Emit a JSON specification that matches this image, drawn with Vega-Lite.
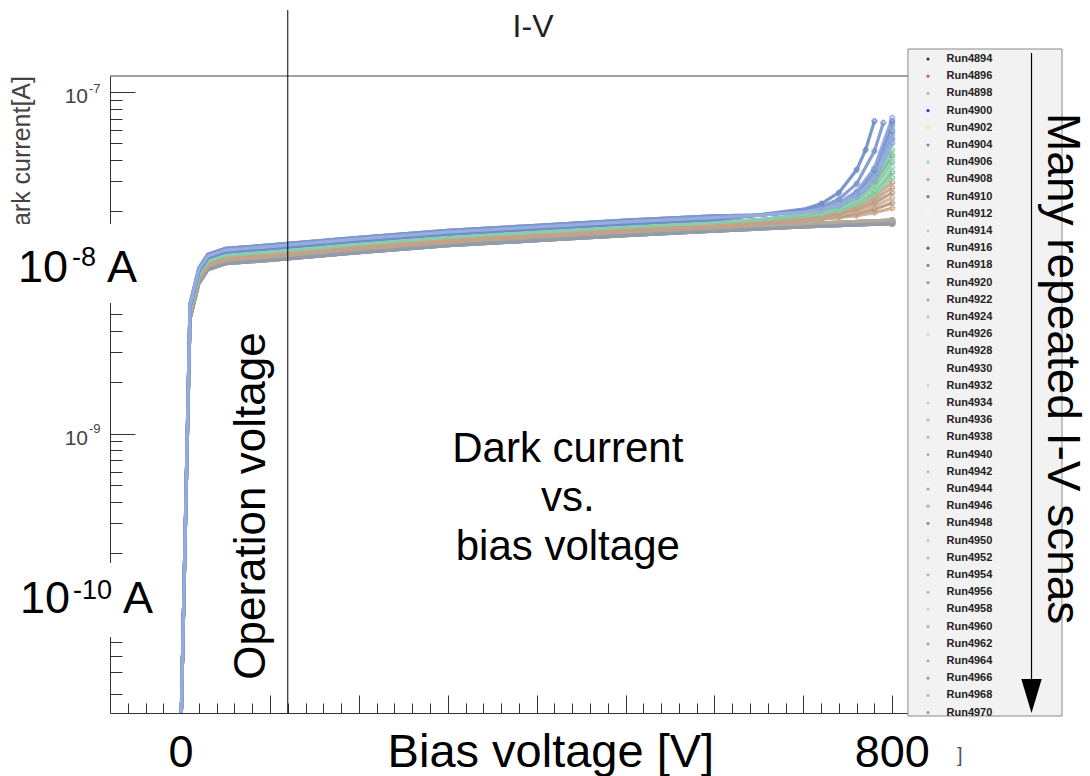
{
"$schema":"https://vega.github.io/schema/vega-lite/v6.json",
"width":800,"height":637,
"autosize":{"type":"none"},
"padding":{"left":110,"top":76,"right":180,"bottom":63},
"background":"white",
"config":{"view":{"stroke":null},"font":"Liberation Sans","axis":{"domainWidth":1,"tickWidth":1}},
"resolve":{"axis":{"x":"independent","y":"independent"}},
"datasets":{"iv":[
{"r":4894,"v":0,"i":2e-11},{"r":4894,"v":10,"i":4.79e-9},{"r":4894,"v":20,"i":7.76e-9},{"r":4894,"v":30,"i":9.33e-9},{"r":4894,"v":50,"i":1.011e-8},{"r":4894,"v":100,"i":1.059e-8},{"r":4894,"v":200,"i":1.175e-8},{"r":4894,"v":300,"i":1.289e-8},{"r":4894,"v":400,"i":1.381e-8},{"r":4894,"v":500,"i":1.479e-8},{"r":4894,"v":600,"i":1.567e-8},{"r":4894,"v":700,"i":1.66e-8},{"r":4894,"v":800,"i":1.737e-8},
{"r":4896,"v":0,"i":2e-11},{"r":4896,"v":10,"i":4.68e-9},{"r":4896,"v":20,"i":7.58e-9},{"r":4896,"v":30,"i":9.11e-9},{"r":4896,"v":50,"i":9.88e-9},{"r":4896,"v":100,"i":1.034e-8},{"r":4896,"v":200,"i":1.148e-8},{"r":4896,"v":300,"i":1.259e-8},{"r":4896,"v":400,"i":1.349e-8},{"r":4896,"v":500,"i":1.445e-8},{"r":4896,"v":600,"i":1.531e-8},{"r":4896,"v":700,"i":1.622e-8},{"r":4896,"v":800,"i":1.697e-8},
{"r":4898,"v":0,"i":2e-11},{"r":4898,"v":10,"i":4.9e-9},{"r":4898,"v":20,"i":7.94e-9},{"r":4898,"v":30,"i":9.54e-9},{"r":4898,"v":50,"i":1.035e-8},{"r":4898,"v":100,"i":1.083e-8},{"r":4898,"v":200,"i":1.202e-8},{"r":4898,"v":300,"i":1.318e-8},{"r":4898,"v":400,"i":1.413e-8},{"r":4898,"v":500,"i":1.513e-8},{"r":4898,"v":600,"i":1.603e-8},{"r":4898,"v":700,"i":1.698e-8},{"r":4898,"v":800,"i":1.777e-8},
{"r":4900,"v":0,"i":2e-11},{"r":4900,"v":10,"i":4.79e-9},{"r":4900,"v":20,"i":7.76e-9},{"r":4900,"v":30,"i":9.33e-9},{"r":4900,"v":50,"i":1.011e-8},{"r":4900,"v":100,"i":1.059e-8},{"r":4900,"v":200,"i":1.175e-8},{"r":4900,"v":300,"i":1.289e-8},{"r":4900,"v":400,"i":1.381e-8},{"r":4900,"v":500,"i":1.479e-8},{"r":4900,"v":600,"i":1.567e-8},{"r":4900,"v":700,"i":1.66e-8},{"r":4900,"v":800,"i":1.737e-8},
{"r":4902,"v":0,"i":2e-11},{"r":4902,"v":10,"i":4.68e-9},{"r":4902,"v":20,"i":7.58e-9},{"r":4902,"v":30,"i":9.11e-9},{"r":4902,"v":50,"i":9.88e-9},{"r":4902,"v":100,"i":1.034e-8},{"r":4902,"v":200,"i":1.148e-8},{"r":4902,"v":300,"i":1.259e-8},{"r":4902,"v":400,"i":1.349e-8},{"r":4902,"v":500,"i":1.445e-8},{"r":4902,"v":600,"i":1.531e-8},{"r":4902,"v":700,"i":1.622e-8},{"r":4902,"v":800,"i":1.697e-8},
{"r":4904,"v":0,"i":2e-11},{"r":4904,"v":10,"i":4.9e-9},{"r":4904,"v":20,"i":7.94e-9},{"r":4904,"v":30,"i":9.54e-9},{"r":4904,"v":50,"i":1.035e-8},{"r":4904,"v":100,"i":1.083e-8},{"r":4904,"v":200,"i":1.202e-8},{"r":4904,"v":300,"i":1.318e-8},{"r":4904,"v":400,"i":1.413e-8},{"r":4904,"v":500,"i":1.513e-8},{"r":4904,"v":600,"i":1.603e-8},{"r":4904,"v":700,"i":1.698e-8},{"r":4904,"v":800,"i":1.777e-8},
{"r":4906,"v":0,"i":2e-11},{"r":4906,"v":10,"i":4.79e-9},{"r":4906,"v":20,"i":7.76e-9},{"r":4906,"v":30,"i":9.33e-9},{"r":4906,"v":50,"i":1.011e-8},{"r":4906,"v":100,"i":1.059e-8},{"r":4906,"v":200,"i":1.175e-8},{"r":4906,"v":300,"i":1.289e-8},{"r":4906,"v":400,"i":1.381e-8},{"r":4906,"v":500,"i":1.479e-8},{"r":4906,"v":600,"i":1.567e-8},{"r":4906,"v":700,"i":1.66e-8},{"r":4906,"v":800,"i":1.737e-8},
{"r":4908,"v":0,"i":2e-11},{"r":4908,"v":10,"i":4.68e-9},{"r":4908,"v":20,"i":7.58e-9},{"r":4908,"v":30,"i":9.11e-9},{"r":4908,"v":50,"i":9.88e-9},{"r":4908,"v":100,"i":1.034e-8},{"r":4908,"v":200,"i":1.148e-8},{"r":4908,"v":300,"i":1.259e-8},{"r":4908,"v":400,"i":1.349e-8},{"r":4908,"v":500,"i":1.445e-8},{"r":4908,"v":600,"i":1.531e-8},{"r":4908,"v":700,"i":1.622e-8},{"r":4908,"v":800,"i":1.697e-8},
{"r":4910,"v":0,"i":2e-11},{"r":4910,"v":10,"i":4.9e-9},{"r":4910,"v":20,"i":7.94e-9},{"r":4910,"v":30,"i":9.54e-9},{"r":4910,"v":50,"i":1.035e-8},{"r":4910,"v":100,"i":1.083e-8},{"r":4910,"v":200,"i":1.202e-8},{"r":4910,"v":300,"i":1.318e-8},{"r":4910,"v":400,"i":1.413e-8},{"r":4910,"v":500,"i":1.513e-8},{"r":4910,"v":600,"i":1.603e-8},{"r":4910,"v":700,"i":1.698e-8},{"r":4910,"v":800,"i":1.777e-8},
{"r":4912,"v":0,"i":2e-11},{"r":4912,"v":10,"i":4.79e-9},{"r":4912,"v":20,"i":7.76e-9},{"r":4912,"v":30,"i":9.33e-9},{"r":4912,"v":50,"i":1.011e-8},{"r":4912,"v":100,"i":1.059e-8},{"r":4912,"v":200,"i":1.175e-8},{"r":4912,"v":300,"i":1.289e-8},{"r":4912,"v":400,"i":1.381e-8},{"r":4912,"v":500,"i":1.479e-8},{"r":4912,"v":600,"i":1.567e-8},{"r":4912,"v":700,"i":1.66e-8},{"r":4912,"v":800,"i":1.737e-8},
{"r":4914,"v":0,"i":2e-11},{"r":4914,"v":10,"i":4.68e-9},{"r":4914,"v":20,"i":7.58e-9},{"r":4914,"v":30,"i":9.11e-9},{"r":4914,"v":50,"i":9.88e-9},{"r":4914,"v":100,"i":1.034e-8},{"r":4914,"v":200,"i":1.148e-8},{"r":4914,"v":300,"i":1.259e-8},{"r":4914,"v":400,"i":1.349e-8},{"r":4914,"v":500,"i":1.445e-8},{"r":4914,"v":600,"i":1.531e-8},{"r":4914,"v":700,"i":1.622e-8},{"r":4914,"v":800,"i":1.697e-8},
{"r":4916,"v":0,"i":2e-11},{"r":4916,"v":10,"i":4.9e-9},{"r":4916,"v":20,"i":7.94e-9},{"r":4916,"v":30,"i":9.54e-9},{"r":4916,"v":50,"i":1.035e-8},{"r":4916,"v":100,"i":1.083e-8},{"r":4916,"v":200,"i":1.202e-8},{"r":4916,"v":300,"i":1.318e-8},{"r":4916,"v":400,"i":1.413e-8},{"r":4916,"v":500,"i":1.513e-8},{"r":4916,"v":600,"i":1.603e-8},{"r":4916,"v":700,"i":1.698e-8},{"r":4916,"v":800,"i":1.777e-8},
{"r":4918,"v":0,"i":2e-11},{"r":4918,"v":10,"i":4.79e-9},{"r":4918,"v":20,"i":7.76e-9},{"r":4918,"v":30,"i":9.33e-9},{"r":4918,"v":50,"i":1.011e-8},{"r":4918,"v":100,"i":1.059e-8},{"r":4918,"v":200,"i":1.175e-8},{"r":4918,"v":300,"i":1.289e-8},{"r":4918,"v":400,"i":1.381e-8},{"r":4918,"v":500,"i":1.479e-8},{"r":4918,"v":600,"i":1.567e-8},{"r":4918,"v":700,"i":1.66e-8},{"r":4918,"v":800,"i":1.737e-8},
{"r":4920,"v":0,"i":2e-11},{"r":4920,"v":10,"i":4.68e-9},{"r":4920,"v":20,"i":7.58e-9},{"r":4920,"v":30,"i":9.11e-9},{"r":4920,"v":50,"i":9.88e-9},{"r":4920,"v":100,"i":1.034e-8},{"r":4920,"v":200,"i":1.148e-8},{"r":4920,"v":300,"i":1.259e-8},{"r":4920,"v":400,"i":1.349e-8},{"r":4920,"v":500,"i":1.445e-8},{"r":4920,"v":600,"i":1.531e-8},{"r":4920,"v":700,"i":1.622e-8},{"r":4920,"v":800,"i":1.697e-8},
{"r":4922,"v":0,"i":2e-11},{"r":4922,"v":10,"i":4.9e-9},{"r":4922,"v":20,"i":7.94e-9},{"r":4922,"v":30,"i":9.54e-9},{"r":4922,"v":50,"i":1.035e-8},{"r":4922,"v":100,"i":1.083e-8},{"r":4922,"v":200,"i":1.202e-8},{"r":4922,"v":300,"i":1.318e-8},{"r":4922,"v":400,"i":1.413e-8},{"r":4922,"v":500,"i":1.513e-8},{"r":4922,"v":600,"i":1.603e-8},{"r":4922,"v":700,"i":1.698e-8},{"r":4922,"v":800,"i":1.777e-8},
{"r":4924,"v":0,"i":2e-11},{"r":4924,"v":10,"i":5.01e-9},{"r":4924,"v":20,"i":8.13e-9},{"r":4924,"v":30,"i":9.77e-9},{"r":4924,"v":50,"i":1.059e-8},{"r":4924,"v":100,"i":1.109e-8},{"r":4924,"v":200,"i":1.23e-8},{"r":4924,"v":300,"i":1.349e-8},{"r":4924,"v":400,"i":1.446e-8},{"r":4924,"v":500,"i":1.549e-8},{"r":4924,"v":600,"i":1.641e-8},{"r":4924,"v":650,"i":1.698e-8},{"r":4924,"v":700,"i":1.764e-8},{"r":4924,"v":720,"i":1.795e-8},{"r":4924,"v":740,"i":1.837e-8},{"r":4924,"v":760,"i":1.892e-8},{"r":4924,"v":780,"i":1.968e-8},{"r":4924,"v":800,"i":2.089e-8},
{"r":4926,"v":0,"i":2e-11},{"r":4926,"v":10,"i":5.01e-9},{"r":4926,"v":20,"i":8.13e-9},{"r":4926,"v":30,"i":9.77e-9},{"r":4926,"v":50,"i":1.059e-8},{"r":4926,"v":100,"i":1.109e-8},{"r":4926,"v":200,"i":1.23e-8},{"r":4926,"v":300,"i":1.349e-8},{"r":4926,"v":400,"i":1.446e-8},{"r":4926,"v":500,"i":1.549e-8},{"r":4926,"v":600,"i":1.641e-8},{"r":4926,"v":650,"i":1.702e-8},{"r":4926,"v":700,"i":1.778e-8},{"r":4926,"v":720,"i":1.816e-8},{"r":4926,"v":740,"i":1.871e-8},{"r":4926,"v":760,"i":1.945e-8},{"r":4926,"v":780,"i":2.061e-8},{"r":4926,"v":800,"i":2.239e-8},
{"r":4928,"v":0,"i":2e-11},{"r":4928,"v":10,"i":5.01e-9},{"r":4928,"v":20,"i":8.13e-9},{"r":4928,"v":30,"i":9.77e-9},{"r":4928,"v":50,"i":1.059e-8},{"r":4928,"v":100,"i":1.109e-8},{"r":4928,"v":200,"i":1.23e-8},{"r":4928,"v":300,"i":1.349e-8},{"r":4928,"v":400,"i":1.446e-8},{"r":4928,"v":500,"i":1.549e-8},{"r":4928,"v":600,"i":1.641e-8},{"r":4928,"v":650,"i":1.706e-8},{"r":4928,"v":700,"i":1.791e-8},{"r":4928,"v":720,"i":1.837e-8},{"r":4928,"v":740,"i":1.905e-8},{"r":4928,"v":760,"i":2e-8},{"r":4928,"v":780,"i":2.153e-8},{"r":4928,"v":800,"i":2.399e-8},
{"r":4930,"v":0,"i":2e-11},{"r":4930,"v":10,"i":5.01e-9},{"r":4930,"v":20,"i":8.13e-9},{"r":4930,"v":30,"i":9.77e-9},{"r":4930,"v":50,"i":1.059e-8},{"r":4930,"v":100,"i":1.109e-8},{"r":4930,"v":200,"i":1.23e-8},{"r":4930,"v":300,"i":1.349e-8},{"r":4930,"v":400,"i":1.446e-8},{"r":4930,"v":500,"i":1.549e-8},{"r":4930,"v":600,"i":1.641e-8},{"r":4930,"v":650,"i":1.71e-8},{"r":4930,"v":700,"i":1.803e-8},{"r":4930,"v":720,"i":1.858e-8},{"r":4930,"v":740,"i":1.941e-8},{"r":4930,"v":760,"i":2.061e-8},{"r":4930,"v":780,"i":2.249e-8},{"r":4930,"v":800,"i":2.57e-8},
{"r":4932,"v":0,"i":2e-11},{"r":4932,"v":10,"i":5.01e-9},{"r":4932,"v":20,"i":8.13e-9},{"r":4932,"v":30,"i":9.77e-9},{"r":4932,"v":50,"i":1.059e-8},{"r":4932,"v":100,"i":1.109e-8},{"r":4932,"v":200,"i":1.23e-8},{"r":4932,"v":300,"i":1.349e-8},{"r":4932,"v":400,"i":1.446e-8},{"r":4932,"v":500,"i":1.549e-8},{"r":4932,"v":600,"i":1.641e-8},{"r":4932,"v":650,"i":1.716e-8},{"r":4932,"v":700,"i":1.817e-8},{"r":4932,"v":720,"i":1.881e-8},{"r":4932,"v":740,"i":1.975e-8},{"r":4932,"v":760,"i":2.118e-8},{"r":4932,"v":780,"i":2.352e-8},{"r":4932,"v":800,"i":2.754e-8},
{"r":4934,"v":0,"i":2e-11},{"r":4934,"v":10,"i":5.01e-9},{"r":4934,"v":20,"i":8.13e-9},{"r":4934,"v":30,"i":9.77e-9},{"r":4934,"v":50,"i":1.059e-8},{"r":4934,"v":100,"i":1.109e-8},{"r":4934,"v":200,"i":1.23e-8},{"r":4934,"v":300,"i":1.349e-8},{"r":4934,"v":400,"i":1.446e-8},{"r":4934,"v":500,"i":1.549e-8},{"r":4934,"v":600,"i":1.641e-8},{"r":4934,"v":650,"i":1.72e-8},{"r":4934,"v":700,"i":1.831e-8},{"r":4934,"v":720,"i":1.903e-8},{"r":4934,"v":740,"i":2.011e-8},{"r":4934,"v":760,"i":2.179e-8},{"r":4934,"v":780,"i":2.458e-8},{"r":4934,"v":800,"i":2.951e-8},
{"r":4936,"v":0,"i":2e-11},{"r":4936,"v":10,"i":5.25e-9},{"r":4936,"v":20,"i":8.51e-9},{"r":4936,"v":30,"i":1.023e-8},{"r":4936,"v":50,"i":1.109e-8},{"r":4936,"v":100,"i":1.161e-8},{"r":4936,"v":200,"i":1.288e-8},{"r":4936,"v":300,"i":1.413e-8},{"r":4936,"v":400,"i":1.514e-8},{"r":4936,"v":500,"i":1.622e-8},{"r":4936,"v":600,"i":1.718e-8},{"r":4936,"v":650,"i":1.783e-8},{"r":4936,"v":700,"i":1.873e-8},{"r":4936,"v":720,"i":1.934e-8},{"r":4936,"v":740,"i":2.03e-8},{"r":4936,"v":760,"i":2.199e-8},{"r":4936,"v":780,"i":2.514e-8},{"r":4936,"v":800,"i":3.162e-8},
{"r":4938,"v":0,"i":2e-11},{"r":4938,"v":10,"i":5.25e-9},{"r":4938,"v":20,"i":8.51e-9},{"r":4938,"v":30,"i":1.023e-8},{"r":4938,"v":50,"i":1.109e-8},{"r":4938,"v":100,"i":1.161e-8},{"r":4938,"v":200,"i":1.288e-8},{"r":4938,"v":300,"i":1.413e-8},{"r":4938,"v":400,"i":1.514e-8},{"r":4938,"v":500,"i":1.622e-8},{"r":4938,"v":600,"i":1.718e-8},{"r":4938,"v":650,"i":1.785e-8},{"r":4938,"v":700,"i":1.881e-8},{"r":4938,"v":720,"i":1.948e-8},{"r":4938,"v":740,"i":2.056e-8},{"r":4938,"v":760,"i":2.248e-8},{"r":4938,"v":780,"i":2.614e-8},{"r":4938,"v":800,"i":3.388e-8},
{"r":4940,"v":0,"i":2e-11},{"r":4940,"v":10,"i":5.25e-9},{"r":4940,"v":20,"i":8.51e-9},{"r":4940,"v":30,"i":1.023e-8},{"r":4940,"v":50,"i":1.109e-8},{"r":4940,"v":100,"i":1.161e-8},{"r":4940,"v":200,"i":1.288e-8},{"r":4940,"v":300,"i":1.413e-8},{"r":4940,"v":400,"i":1.514e-8},{"r":4940,"v":500,"i":1.622e-8},{"r":4940,"v":600,"i":1.718e-8},{"r":4940,"v":650,"i":1.786e-8},{"r":4940,"v":700,"i":1.888e-8},{"r":4940,"v":720,"i":1.962e-8},{"r":4940,"v":740,"i":2.082e-8},{"r":4940,"v":760,"i":2.298e-8},{"r":4940,"v":780,"i":2.718e-8},{"r":4940,"v":800,"i":3.631e-8},
{"r":4942,"v":0,"i":2e-11},{"r":4942,"v":10,"i":5.25e-9},{"r":4942,"v":20,"i":8.51e-9},{"r":4942,"v":30,"i":1.023e-8},{"r":4942,"v":50,"i":1.109e-8},{"r":4942,"v":100,"i":1.161e-8},{"r":4942,"v":200,"i":1.288e-8},{"r":4942,"v":300,"i":1.413e-8},{"r":4942,"v":400,"i":1.514e-8},{"r":4942,"v":500,"i":1.622e-8},{"r":4942,"v":600,"i":1.718e-8},{"r":4942,"v":650,"i":1.788e-8},{"r":4942,"v":700,"i":1.895e-8},{"r":4942,"v":720,"i":1.975e-8},{"r":4942,"v":740,"i":2.108e-8},{"r":4942,"v":760,"i":2.349e-8},{"r":4942,"v":780,"i":2.827e-8},{"r":4942,"v":800,"i":3.89e-8},
{"r":4944,"v":0,"i":2e-11},{"r":4944,"v":10,"i":5.25e-9},{"r":4944,"v":20,"i":8.51e-9},{"r":4944,"v":30,"i":1.023e-8},{"r":4944,"v":50,"i":1.109e-8},{"r":4944,"v":100,"i":1.161e-8},{"r":4944,"v":200,"i":1.288e-8},{"r":4944,"v":300,"i":1.413e-8},{"r":4944,"v":400,"i":1.514e-8},{"r":4944,"v":500,"i":1.622e-8},{"r":4944,"v":600,"i":1.718e-8},{"r":4944,"v":650,"i":1.789e-8},{"r":4944,"v":700,"i":1.9e-8},{"r":4944,"v":720,"i":1.985e-8},{"r":4944,"v":740,"i":2.125e-8},{"r":4944,"v":760,"i":2.384e-8},{"r":4944,"v":780,"i":2.901e-8},{"r":4944,"v":800,"i":4.074e-8},
{"r":4946,"v":0,"i":2e-11},{"r":4946,"v":10,"i":5.25e-9},{"r":4946,"v":20,"i":8.51e-9},{"r":4946,"v":30,"i":1.023e-8},{"r":4946,"v":50,"i":1.109e-8},{"r":4946,"v":100,"i":1.161e-8},{"r":4946,"v":200,"i":1.288e-8},{"r":4946,"v":300,"i":1.413e-8},{"r":4946,"v":400,"i":1.514e-8},{"r":4946,"v":500,"i":1.622e-8},{"r":4946,"v":600,"i":1.718e-8},{"r":4946,"v":650,"i":1.79e-8},{"r":4946,"v":700,"i":1.905e-8},{"r":4946,"v":720,"i":1.994e-8},{"r":4946,"v":740,"i":2.143e-8},{"r":4946,"v":760,"i":2.42e-8},{"r":4946,"v":780,"i":2.978e-8},{"r":4946,"v":800,"i":4.266e-8},
{"r":4948,"v":0,"i":2e-11},{"r":4948,"v":10,"i":5.25e-9},{"r":4948,"v":20,"i":8.51e-9},{"r":4948,"v":30,"i":1.023e-8},{"r":4948,"v":50,"i":1.109e-8},{"r":4948,"v":100,"i":1.161e-8},{"r":4948,"v":200,"i":1.288e-8},{"r":4948,"v":300,"i":1.413e-8},{"r":4948,"v":400,"i":1.514e-8},{"r":4948,"v":500,"i":1.622e-8},{"r":4948,"v":600,"i":1.718e-8},{"r":4948,"v":650,"i":1.792e-8},{"r":4948,"v":700,"i":1.913e-8},{"r":4948,"v":720,"i":2.008e-8},{"r":4948,"v":740,"i":2.17e-8},{"r":4948,"v":760,"i":2.473e-8},{"r":4948,"v":780,"i":3.096e-8},{"r":4948,"v":800,"i":4.571e-8},
{"r":4950,"v":0,"i":2e-11},{"r":4950,"v":10,"i":5.5e-9},{"r":4950,"v":20,"i":8.91e-9},{"r":4950,"v":30,"i":1.071e-8},{"r":4950,"v":50,"i":1.161e-8},{"r":4950,"v":100,"i":1.216e-8},{"r":4950,"v":200,"i":1.349e-8},{"r":4950,"v":300,"i":1.479e-8},{"r":4950,"v":400,"i":1.585e-8},{"r":4950,"v":500,"i":1.698e-8},{"r":4950,"v":600,"i":1.799e-8},{"r":4950,"v":650,"i":1.902e-8},{"r":4950,"v":700,"i":1.987e-8},{"r":4950,"v":720,"i":2.051e-8},{"r":4950,"v":740,"i":2.171e-8},{"r":4950,"v":760,"i":2.432e-8},{"r":4950,"v":780,"i":3.067e-8},{"r":4950,"v":800,"i":5.012e-8},
{"r":4952,"v":0,"i":2e-11},{"r":4952,"v":10,"i":5.63e-9},{"r":4952,"v":20,"i":9.12e-9},{"r":4952,"v":30,"i":1.096e-8},{"r":4952,"v":50,"i":1.188e-8},{"r":4952,"v":100,"i":1.244e-8},{"r":4952,"v":200,"i":1.38e-8},{"r":4952,"v":300,"i":1.514e-8},{"r":4952,"v":400,"i":1.622e-8},{"r":4952,"v":500,"i":1.738e-8},{"r":4952,"v":600,"i":1.841e-8},{"r":4952,"v":650,"i":1.902e-8},{"r":4952,"v":700,"i":1.991e-8},{"r":4952,"v":720,"i":2.058e-8},{"r":4952,"v":740,"i":2.186e-8},{"r":4952,"v":760,"i":2.468e-8},{"r":4952,"v":780,"i":3.166e-8},{"r":4952,"v":800,"i":5.37e-8},
{"r":4954,"v":0,"i":2e-11},{"r":4954,"v":10,"i":5.76e-9},{"r":4954,"v":20,"i":9.33e-9},{"r":4954,"v":30,"i":1.122e-8},{"r":4954,"v":50,"i":1.216e-8},{"r":4954,"v":100,"i":1.273e-8},{"r":4954,"v":200,"i":1.412e-8},{"r":4954,"v":300,"i":1.549e-8},{"r":4954,"v":400,"i":1.66e-8},{"r":4954,"v":500,"i":1.779e-8},{"r":4954,"v":600,"i":1.884e-8},{"r":4954,"v":650,"i":1.903e-8},{"r":4954,"v":700,"i":1.993e-8},{"r":4954,"v":720,"i":2.062e-8},{"r":4954,"v":740,"i":2.196e-8},{"r":4954,"v":760,"i":2.493e-8},{"r":4954,"v":780,"i":3.234e-8},{"r":4954,"v":800,"i":5.623e-8},
{"r":4956,"v":0,"i":2e-11},{"r":4956,"v":10,"i":5.5e-9},{"r":4956,"v":20,"i":8.91e-9},{"r":4956,"v":30,"i":1.071e-8},{"r":4956,"v":50,"i":1.161e-8},{"r":4956,"v":100,"i":1.216e-8},{"r":4956,"v":200,"i":1.349e-8},{"r":4956,"v":300,"i":1.479e-8},{"r":4956,"v":400,"i":1.585e-8},{"r":4956,"v":500,"i":1.698e-8},{"r":4956,"v":600,"i":1.799e-8},{"r":4956,"v":650,"i":1.903e-8},{"r":4956,"v":700,"i":1.995e-8},{"r":4956,"v":720,"i":2.067e-8},{"r":4956,"v":740,"i":2.206e-8},{"r":4956,"v":760,"i":2.517e-8},{"r":4956,"v":780,"i":3.304e-8},{"r":4956,"v":800,"i":5.888e-8},
{"r":4958,"v":0,"i":2e-11},{"r":4958,"v":10,"i":5.63e-9},{"r":4958,"v":20,"i":9.12e-9},{"r":4958,"v":30,"i":1.096e-8},{"r":4958,"v":50,"i":1.188e-8},{"r":4958,"v":100,"i":1.244e-8},{"r":4958,"v":200,"i":1.38e-8},{"r":4958,"v":300,"i":1.514e-8},{"r":4958,"v":400,"i":1.622e-8},{"r":4958,"v":500,"i":1.738e-8},{"r":4958,"v":600,"i":1.841e-8},{"r":4958,"v":650,"i":1.903e-8},{"r":4958,"v":700,"i":1.997e-8},{"r":4958,"v":720,"i":2.071e-8},{"r":4958,"v":740,"i":2.216e-8},{"r":4958,"v":760,"i":2.542e-8},{"r":4958,"v":780,"i":3.375e-8},{"r":4958,"v":800,"i":6.166e-8},
{"r":4960,"v":0,"i":2e-11},{"r":4960,"v":10,"i":5.76e-9},{"r":4960,"v":20,"i":9.33e-9},{"r":4960,"v":30,"i":1.122e-8},{"r":4960,"v":50,"i":1.216e-8},{"r":4960,"v":100,"i":1.273e-8},{"r":4960,"v":200,"i":1.412e-8},{"r":4960,"v":300,"i":1.549e-8},{"r":4960,"v":400,"i":1.66e-8},{"r":4960,"v":500,"i":1.779e-8},{"r":4960,"v":600,"i":1.884e-8},{"r":4960,"v":650,"i":1.904e-8},{"r":4960,"v":700,"i":1.998e-8},{"r":4960,"v":720,"i":2.075e-8},{"r":4960,"v":740,"i":2.226e-8},{"r":4960,"v":760,"i":2.568e-8},{"r":4960,"v":780,"i":3.448e-8},{"r":4960,"v":800,"i":6.457e-8},
{"r":4962,"v":0,"i":2e-11},{"r":4962,"v":10,"i":5.5e-9},{"r":4962,"v":20,"i":8.91e-9},{"r":4962,"v":30,"i":1.071e-8},{"r":4962,"v":50,"i":1.161e-8},{"r":4962,"v":100,"i":1.216e-8},{"r":4962,"v":200,"i":1.349e-8},{"r":4962,"v":300,"i":1.479e-8},{"r":4962,"v":400,"i":1.585e-8},{"r":4962,"v":500,"i":1.698e-8},{"r":4962,"v":600,"i":1.799e-8},{"r":4962,"v":650,"i":1.904e-8},{"r":4962,"v":700,"i":2e-8},{"r":4962,"v":720,"i":2.079e-8},{"r":4962,"v":740,"i":2.236e-8},{"r":4962,"v":760,"i":2.593e-8},{"r":4962,"v":780,"i":3.523e-8},{"r":4962,"v":800,"i":6.761e-8},
{"r":4964,"v":0,"i":2e-11},{"r":4964,"v":10,"i":5.63e-9},{"r":4964,"v":20,"i":9.12e-9},{"r":4964,"v":30,"i":1.096e-8},{"r":4964,"v":50,"i":1.188e-8},{"r":4964,"v":100,"i":1.244e-8},{"r":4964,"v":200,"i":1.38e-8},{"r":4964,"v":300,"i":1.514e-8},{"r":4964,"v":400,"i":1.622e-8},{"r":4964,"v":500,"i":1.738e-8},{"r":4964,"v":600,"i":1.841e-8},{"r":4964,"v":650,"i":1.904e-8},{"r":4964,"v":700,"i":2.002e-8},{"r":4964,"v":720,"i":2.084e-8},{"r":4964,"v":740,"i":2.247e-8},{"r":4964,"v":760,"i":2.619e-8},{"r":4964,"v":780,"i":3.597e-8},{"r":4964,"v":800,"i":7.079e-8},
{"r":4966,"v":0,"i":2e-11},{"r":4966,"v":10,"i":5.76e-9},{"r":4966,"v":20,"i":9.33e-9},{"r":4966,"v":30,"i":1.122e-8},{"r":4966,"v":50,"i":1.216e-8},{"r":4966,"v":100,"i":1.273e-8},{"r":4966,"v":200,"i":1.412e-8},{"r":4966,"v":300,"i":1.549e-8},{"r":4966,"v":400,"i":1.66e-8},{"r":4966,"v":500,"i":1.779e-8},{"r":4966,"v":600,"i":1.884e-8},{"r":4966,"v":650,"i":1.907e-8},{"r":4966,"v":700,"i":2.023e-8},{"r":4966,"v":720,"i":2.131e-8},{"r":4966,"v":740,"i":2.359e-8},{"r":4966,"v":760,"i":2.905e-8},{"r":4966,"v":780,"i":4.516e-8},{"r":4966,"v":790,"i":6.607e-8},
{"r":4968,"v":0,"i":2e-11},{"r":4968,"v":10,"i":5.5e-9},{"r":4968,"v":20,"i":8.91e-9},{"r":4968,"v":30,"i":1.071e-8},{"r":4968,"v":50,"i":1.161e-8},{"r":4968,"v":100,"i":1.216e-8},{"r":4968,"v":200,"i":1.349e-8},{"r":4968,"v":300,"i":1.479e-8},{"r":4968,"v":400,"i":1.585e-8},{"r":4968,"v":500,"i":1.698e-8},{"r":4968,"v":600,"i":1.799e-8},{"r":4968,"v":650,"i":1.912e-8},{"r":4968,"v":700,"i":2.062e-8},{"r":4968,"v":720,"i":2.218e-8},{"r":4968,"v":740,"i":2.575e-8},{"r":4968,"v":760,"i":3.505e-8},{"r":4968,"v":770,"i":4.58e-8},{"r":4968,"v":780,"i":6.761e-8},
{"r":4970,"v":0,"i":2e-11},{"r":4970,"v":10,"i":5.63e-9},{"r":4970,"v":20,"i":9.12e-9},{"r":4970,"v":30,"i":1.096e-8},{"r":4970,"v":50,"i":1.188e-8},{"r":4970,"v":100,"i":1.244e-8},{"r":4970,"v":200,"i":1.38e-8},{"r":4970,"v":300,"i":1.514e-8},{"r":4970,"v":400,"i":1.622e-8},{"r":4970,"v":500,"i":1.738e-8},{"r":4970,"v":600,"i":1.841e-8},{"r":4970,"v":650,"i":1.902e-8},{"r":4970,"v":700,"i":1.99e-8},{"r":4970,"v":720,"i":2.056e-8},{"r":4970,"v":740,"i":2.181e-8},{"r":4970,"v":760,"i":2.456e-8},{"r":4970,"v":780,"i":3.132e-8},{"r":4970,"v":800,"i":5.248e-8}
]},
"layer":[
{"data":{"name":"iv"},"mark":{"type":"line","clip":true,"strokeWidth":3.2,"opacity":0.9},
 "encoding":{
  "x":{"field":"v","type":"quantitative","scale":{"domain":[-80,820],"nice":false,"zero":false},
   "axis":{"orient":"bottom","values":[-60,-40,-20,0,20,40,60,80,100,120,140,160,180,200,220,240,260,280,300,320,340,360,380,400,420,440,460,480,500,520,540,560,580,600,620,640,660,680,700,720,740,760,780,800,820],"labels":false,"title":null,"grid":false,"domainColor":"#333","tickColor":"#333","tickSize":-10}},
  "y":{"field":"i","type":"quantitative","scale":{"type":"log","domain":[2.315e-11,1.2417e-7],"nice":false},
   "axis":{"orient":"left","values":[3e-11,4e-11,5e-11,6e-11,7e-11,8e-11,9e-11,2e-10,3e-10,4e-10,5e-10,6e-10,7e-10,8e-10,9e-10,2e-9,3e-9,4e-9,5e-9,6e-9,7e-9,8e-9,9e-9,2e-8,3e-8,4e-8,5e-8,6e-8,7e-8,8e-8,9e-8],"labels":false,"title":null,"grid":false,"domainColor":"#333","tickColor":"#333","tickSize":-12}},
  "stroke":{"field":"r","type":"nominal","legend":null,"scale":{
   "range":["#9a9890","#a4a8b4","#8c8a84","#b0aa9c","#98a0b0","#a8a498","#8890a0","#b4b0a4","#9c9a94","#a0a8b8","#908c84","#aab0bc","#a09c90","#949cac","#b0ac9c","#c8a88e","#b8967c","#d0b098","#c09a80","#bca48c","#c8a084","#8fd0aa","#7cc49a","#9ad8b6","#84c8a0","#a0d4b4","#76bc94","#90ccb0","#8aa4d8","#7c98d0","#94aedc","#7090cc","#a0b4dc","#8098d4","#6a8ac8","#90a8d8","#7c94cc","#6e8cc8","#98b0e0"]}}
 }},
{"data":{"name":"iv"},"transform":[{"filter":"datum.v >= 720"}],"mark":{"type":"point","shape":"cross","filled":false,"size":22,"strokeWidth":1.2,"clip":true,"opacity":0.9},
 "encoding":{
  "x":{"field":"v","type":"quantitative","scale":{"domain":[-80,820],"nice":false,"zero":false},"axis":null},
  "y":{"field":"i","type":"quantitative","scale":{"type":"log","domain":[2.315e-11,1.2417e-7],"nice":false},"axis":null},
  "stroke":{"field":"r","type":"nominal","legend":null}
 }},
{"data":{"name":"iv"},"transform":[{"filter":"datum.v == 0"}],"mark":{"type":"point","filled":true,"clip":true},
 "encoding":{
  "x":{"field":"v","type":"quantitative","scale":{"domain":[-80,820],"nice":false,"zero":false},
   "axis":{"orient":"bottom","values":[0,100,200,300,400,500,600,700,800],"labels":false,"title":null,"grid":false,"domain":false,"tickColor":"#333","tickSize":-18}},
  "y":{"field":"i","type":"quantitative","scale":{"type":"log","domain":[2.315e-11,1.2417e-7],"nice":false},
   "axis":{"orient":"left","values":[1e-10,1e-9,1e-8,1e-7],"labels":false,"title":null,"grid":false,"domain":false,"tickColor":"#333","tickSize":-25}},
  "color":{"field":"r","type":"nominal","scale":{"domain":[4894,4896,4898,4900,4902,4904,4906,4908,4910,4912,4914,4916,4918,4920,4922,4924,4926,4928,4930,4932,4934,4936,4938,4940,4942,4944,4946,4948,4950,4952,4954,4956,4958,4960,4962,4964,4966,4968,4970],
   "range":["#333333","#e06060","#90d890","#3030c8","#f0f040","#c060c0","#80e0e0","#80c880","#7070b0","#f8f8f8","#c8c8c8","#666666","#888888","#999999","#aaaaaa","#c0c0c0","#d8d8d8","#eeeeee","#f4f4f4","#d0d0d0","#c8c8c8","#b8b8b8","#c0c0c0","#b0b0b0","#c0c0c0","#a8a8a8","#b0b0b0","#909090","#c8c8c8","#c0c0c0","#b0b0b0","#b8b8b8","#d0d0d0","#b0b0b0","#a8a8a8","#b0b0b0","#a0a0a0","#b8b8b8","#a0a0a0"]},
   "legend":{"orient":"none","legendX":812.5,"legendY":-22.5,"zindex":1,"direction":"vertical","title":null,"labelExpr":"'Run' + datum.label","labelFont":"Liberation Sans","labelFontWeight":"bold","labelFontSize":11,"labelColor":"#222","symbolType":"circle","symbolSize":10,"symbolOpacity":1,"symbolStrokeWidth":0,"rowPadding":5.2,"padding":0,"labelOffset":13,"symbolLimit":50}}
 }},
{"data":{"values":[{}]},"mark":{"type":"rule","color":"#444","strokeWidth":1},
 "encoding":{"x":{"datum":-80,"type":"quantitative","scale":{"domain":[-80,820],"nice":false,"zero":false},"axis":null},"x2":{"datum":820},"y":{"datum":1.2417e-7,"type":"quantitative","scale":{"type":"log","domain":[2.315e-11,1.2417e-7],"nice":false},"axis":null}}},
{"data":{"values":[{}]},"mark":{"type":"text","align":"right","baseline":"alphabetic","fontSize":21,"color":"#444","font":"Liberation Sans"},
 "encoding":{"x":{"datum":-104.75,"type":"quantitative","scale":{"domain":[-80,820],"nice":false,"zero":false},"axis":null},"y":{"datum":8.63e-8,"type":"quantitative","scale":{"type":"log","domain":[2.315e-11,1.2417e-7],"nice":false},"axis":null},"text":{"value":"10"}}},
{"data":{"values":[{}]},"mark":{"type":"text","align":"left","baseline":"alphabetic","fontSize":13,"color":"#444","font":"Liberation Sans"},
 "encoding":{"x":{"datum":-103.6,"type":"quantitative","scale":{"domain":[-80,820],"nice":false,"zero":false},"axis":null},"y":{"datum":9.87e-8,"type":"quantitative","scale":{"type":"log","domain":[2.315e-11,1.2417e-7],"nice":false},"axis":null},"text":{"value":"-7"}}},
{"data":{"values":[{}]},"mark":{"type":"text","align":"right","baseline":"alphabetic","fontSize":21,"color":"#444","font":"Liberation Sans"},
 "encoding":{"x":{"datum":-104.75,"type":"quantitative","scale":{"domain":[-80,820],"nice":false,"zero":false},"axis":null},"y":{"datum":8.58e-10,"type":"quantitative","scale":{"type":"log","domain":[2.315e-11,1.2417e-7],"nice":false},"axis":null},"text":{"value":"10"}}},
{"data":{"values":[{}]},"mark":{"type":"text","align":"left","baseline":"alphabetic","fontSize":13,"color":"#444","font":"Liberation Sans"},
 "encoding":{"x":{"datum":-103.6,"type":"quantitative","scale":{"domain":[-80,820],"nice":false,"zero":false},"axis":null},"y":{"datum":1.009e-9,"type":"quantitative","scale":{"type":"log","domain":[2.315e-11,1.2417e-7],"nice":false},"axis":null},"text":{"value":"-9"}}},
{"data":{"values":[{}]},"mark":{"type":"text","angle":270,"align":"right","baseline":"alphabetic","fontSize":25,"color":"#444","font":"Liberation Sans"},
 "encoding":{"x":{"datum":-170,"type":"quantitative","scale":{"domain":[-80,820],"nice":false,"zero":false},"axis":null},"y":{"datum":1.2417e-7,"type":"quantitative","scale":{"type":"log","domain":[2.315e-11,1.2417e-7],"nice":false},"axis":null},"text":{"value":"Dark current[A]"}}},
{"data":{"values":[{}]},"mark":{"type":"rect","fill":"white"},
 "encoding":{"x":{"datum":-192.5,"type":"quantitative","scale":{"domain":[-80,820],"nice":false,"zero":false},"axis":null},"x2":{"datum":-35},"y":{"datum":1.688e-8,"type":"quantitative","scale":{"type":"log","domain":[2.315e-11,1.2417e-7],"nice":false},"axis":null},"y2":{"datum":5.82e-9}}},
{"data":{"values":[{}]},"mark":{"type":"rect","fill":"white"},
 "encoding":{"x":{"datum":-192.5,"type":"quantitative","scale":{"domain":[-80,820],"nice":false,"zero":false},"axis":null},"x2":{"datum":-35},"y":{"datum":1.748e-10,"type":"quantitative","scale":{"type":"log","domain":[2.315e-11,1.2417e-7],"nice":false},"axis":null},"y2":{"datum":6.45e-11}}},
{"data":{"values":[{}]},"mark":{"type":"text","align":"left","baseline":"alphabetic","fontSize":45,"color":"black","font":"Liberation Sans"},
 "encoding":{"x":{"datum":-183.5,"type":"quantitative","scale":{"domain":[-80,820],"nice":false,"zero":false},"axis":null},"y":{"datum":7.72e-9,"type":"quantitative","scale":{"type":"log","domain":[2.315e-11,1.2417e-7],"nice":false},"axis":null},"text":{"value":"10"}}},
{"data":{"values":[{}]},"mark":{"type":"text","align":"left","baseline":"alphabetic","fontSize":27,"color":"black","font":"Liberation Sans"},
 "encoding":{"x":{"datum":-122.75,"type":"quantitative","scale":{"domain":[-80,820],"nice":false,"zero":false},"axis":null},"y":{"datum":9.58e-9,"type":"quantitative","scale":{"type":"log","domain":[2.315e-11,1.2417e-7],"nice":false},"axis":null},"text":{"value":"-8"}}},
{"data":{"values":[{}]},"mark":{"type":"text","align":"left","baseline":"alphabetic","fontSize":45,"color":"black","font":"Liberation Sans"},
 "encoding":{"x":{"datum":-83.4,"type":"quantitative","scale":{"domain":[-80,820],"nice":false,"zero":false},"axis":null},"y":{"datum":7.72e-9,"type":"quantitative","scale":{"type":"log","domain":[2.315e-11,1.2417e-7],"nice":false},"axis":null},"text":{"value":"A"}}},
{"data":{"values":[{}]},"mark":{"type":"text","align":"left","baseline":"alphabetic","fontSize":45,"color":"black","font":"Liberation Sans"},
 "encoding":{"x":{"datum":-181.25,"type":"quantitative","scale":{"domain":[-80,820],"nice":false,"zero":false},"axis":null},"y":{"datum":8.91e-11,"type":"quantitative","scale":{"type":"log","domain":[2.315e-11,1.2417e-7],"nice":false},"axis":null},"text":{"value":"10"}}},
{"data":{"values":[{}]},"mark":{"type":"text","align":"left","baseline":"alphabetic","fontSize":27,"color":"black","font":"Liberation Sans"},
 "encoding":{"x":{"datum":-121.6,"type":"quantitative","scale":{"domain":[-80,820],"nice":false,"zero":false},"axis":null},"y":{"datum":1.076e-10,"type":"quantitative","scale":{"type":"log","domain":[2.315e-11,1.2417e-7],"nice":false},"axis":null},"text":{"value":"-10"}}},
{"data":{"values":[{}]},"mark":{"type":"text","align":"left","baseline":"alphabetic","fontSize":45,"color":"black","font":"Liberation Sans"},
 "encoding":{"x":{"datum":-65.4,"type":"quantitative","scale":{"domain":[-80,820],"nice":false,"zero":false},"axis":null},"y":{"datum":8.91e-11,"type":"quantitative","scale":{"type":"log","domain":[2.315e-11,1.2417e-7],"nice":false},"axis":null},"text":{"value":"A"}}},
{"data":{"values":[{}]},"mark":{"type":"text","angle":270,"align":"center","baseline":"alphabetic","fontSize":44,"color":"black","font":"Liberation Sans"},
 "encoding":{"x":{"datum":94.4,"type":"quantitative","scale":{"domain":[-80,820],"nice":false,"zero":false},"axis":null},"y":{"datum":3.77e-10,"type":"quantitative","scale":{"type":"log","domain":[2.315e-11,1.2417e-7],"nice":false},"axis":null},"text":{"value":"Operation voltage"}}},
{"data":{"values":[{}]},"mark":{"type":"text","align":"center","baseline":"alphabetic","fontSize":42,"lineHeight":49,"color":"black","font":"Liberation Sans"},
 "encoding":{"x":{"datum":435,"type":"quantitative","scale":{"domain":[-80,820],"nice":false,"zero":false},"axis":null},"y":{"datum":6.82e-10,"type":"quantitative","scale":{"type":"log","domain":[2.315e-11,1.2417e-7],"nice":false},"axis":null},"text":{"value":["Dark current","vs.","bias voltage"]}}},
{"data":{"values":[{}]},"mark":{"type":"text","align":"center","baseline":"alphabetic","fontSize":45,"color":"black","font":"Liberation Sans"},
 "encoding":{"x":{"datum":0,"type":"quantitative","scale":{"domain":[-80,820],"nice":false,"zero":false},"axis":null},"y":{"datum":1.117e-11,"type":"quantitative","scale":{"type":"log","domain":[2.315e-11,1.2417e-7],"nice":false},"axis":null},"text":{"value":"0"}}},
{"data":{"values":[{}]},"mark":{"type":"text","align":"center","baseline":"alphabetic","fontSize":47,"color":"black","font":"Liberation Sans"},
 "encoding":{"x":{"datum":416,"type":"quantitative","scale":{"domain":[-80,820],"nice":false,"zero":false},"axis":null},"y":{"datum":1.117e-11,"type":"quantitative","scale":{"type":"log","domain":[2.315e-11,1.2417e-7],"nice":false},"axis":null},"text":{"value":"Bias voltage [V]"}}},
{"data":{"values":[{}]},"mark":{"type":"text","align":"center","baseline":"alphabetic","fontSize":45,"color":"black","font":"Liberation Sans"},
 "encoding":{"x":{"datum":800,"type":"quantitative","scale":{"domain":[-80,820],"nice":false,"zero":false},"axis":null},"y":{"datum":1.117e-11,"type":"quantitative","scale":{"type":"log","domain":[2.315e-11,1.2417e-7],"nice":false},"axis":null},"text":{"value":"800"}}},
{"data":{"values":[{}]},"mark":{"type":"text","align":"center","baseline":"alphabetic","fontSize":20,"color":"#555","font":"Liberation Sans"},
 "encoding":{"x":{"datum":876,"type":"quantitative","scale":{"domain":[-80,820],"nice":false,"zero":false},"axis":null},"y":{"datum":1.196e-11,"type":"quantitative","scale":{"type":"log","domain":[2.315e-11,1.2417e-7],"nice":false},"axis":null},"text":{"value":"]"}}},
{"data":{"values":[{}]},"mark":{"type":"text","align":"center","baseline":"alphabetic","fontSize":32,"color":"#222","font":"Liberation Sans"},
 "encoding":{"x":{"datum":395.9,"type":"quantitative","scale":{"domain":[-80,820],"nice":false,"zero":false},"axis":null},"y":{"datum":2.1e-7,"type":"quantitative","scale":{"type":"log","domain":[2.315e-11,1.2417e-7],"nice":false},"axis":null},"text":{"value":"I-V"}}},
{"data":{"values":[{}]},"mark":{"type":"rule","color":"black","strokeWidth":1},
 "encoding":{"x":{"datum":120,"type":"quantitative","scale":{"domain":[-80,820],"nice":false,"zero":false},"axis":null},"y":{"datum":3.02e-7,"type":"quantitative","scale":{"type":"log","domain":[2.315e-11,1.2417e-7],"nice":false},"axis":null},"y2":{"datum":2.315e-11}}},
{"data":{"values":[{}]},"mark":{"type":"rect","fill":"#f2f2f2","stroke":"#8a8a8a","strokeWidth":1},
 "encoding":{"x":{"datum":817.7,"type":"quantitative","scale":{"domain":[-80,820],"nice":false,"zero":false},"axis":null},"x2":{"datum":991},"y":{"datum":1.787e-7,"type":"quantitative","scale":{"type":"log","domain":[2.315e-11,1.2417e-7],"nice":false},"axis":null},"y2":{"datum":2.223e-11}}},
{"data":{"values":[{}]},"mark":{"type":"rule","color":"black","strokeWidth":1.2},
 "encoding":{"x":{"datum":956.7,"type":"quantitative","scale":{"domain":[-80,820],"nice":false,"zero":false},"axis":null},"y":{"datum":1.693e-7,"type":"quantitative","scale":{"type":"log","domain":[2.315e-11,1.2417e-7],"nice":false},"axis":null},"y2":{"datum":3.156e-11}}},
{"data":{"values":[{}]},"mark":{"type":"point","filled":true,"color":"black","opacity":1,"shape":"M -0.6 -1 L 0.6 -1 L 0 1 Z","size":1156},
 "encoding":{"x":{"datum":956.7,"type":"quantitative","scale":{"domain":[-80,820],"nice":false,"zero":false},"axis":null},"y":{"datum":2.91e-11,"type":"quantitative","scale":{"type":"log","domain":[2.315e-11,1.2417e-7],"nice":false},"axis":null}}},
{"data":{"values":[{}]},"mark":{"type":"text","angle":90,"align":"left","baseline":"alphabetic","fontSize":46,"color":"black","font":"Liberation Sans"},
 "encoding":{"x":{"datum":975.2,"type":"quantitative","scale":{"domain":[-80,820],"nice":false,"zero":false},"axis":null},"y":{"datum":7.54e-8,"type":"quantitative","scale":{"type":"log","domain":[2.315e-11,1.2417e-7],"nice":false},"axis":null},"text":{"value":"Many repeated I-V scnas"}}}
]
}
